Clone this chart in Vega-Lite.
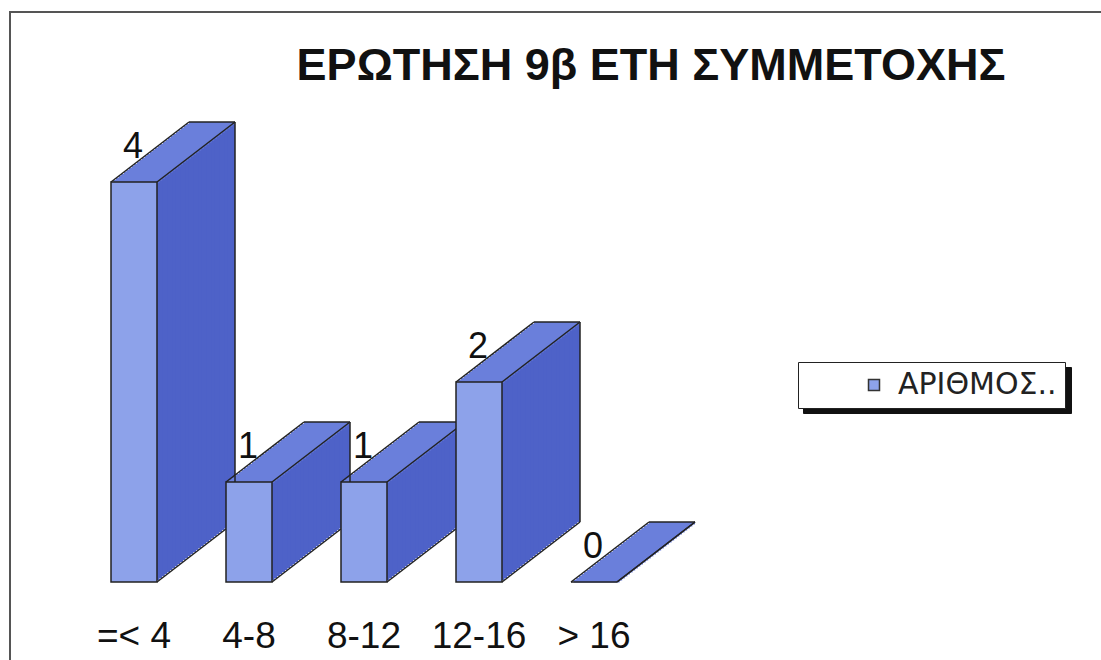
{
  "$schema": "https://vega.github.io/schema/vega-lite/v6.json",
  "autosize": "none",
  "width": 1100,
  "height": 660,
  "padding": {"left": 10, "top": 12, "right": 0, "bottom": 0},
  "background": "white",
  "config": {"view": {"stroke": "#555", "strokeWidth": 2}},
  "title": {"text": "ΕΡΩΤΗΣΗ 9β ΕΤΗ ΣΥΜΜΕΤΟΧΗΣ", "font": "Liberation Sans", "fontSize": 45, "fontWeight": "bold", "color": "#111", "anchor": "middle", "frame": "group", "dx": 91, "dy": 113, "baseline": "alphabetic", "offset": 0},
  "data": {"values": [
    {"cat": "=< 4", "v": 4},
    {"cat": "4-8", "v": 1},
    {"cat": "8-12", "v": 1},
    {"cat": "12-16", "v": 2},
    {"cat": "> 16", "v": 0}
  ]},
  "encoding": {
    "x": {"field": "cat", "type": "nominal", "sort": null, "axis": null, "scale": {"paddingInner": 0.6, "paddingOuter": 0.3, "range": [66.5, 641.5]}},
    "y": {"field": "v", "type": "quantitative", "axis": null, "scale": {"domain": [-0.9, 5.7], "nice": false, "zero": false}}
  },
  "layer": [
    {"mark": {"type": "bar", "color": "#4E62C8", "xOffset": 78, "yOffset": -60, "y2Offset": -60}, "encoding": {"y2": {"datum": 0}}},
    {"mark": {"type": "bar", "color": "#4E62C8", "xOffset": 75.4, "yOffset": -58, "y2Offset": -58}, "encoding": {"y2": {"datum": 0}}},
    {"mark": {"type": "bar", "color": "#4E62C8", "xOffset": 72.8, "yOffset": -56, "y2Offset": -56}, "encoding": {"y2": {"datum": 0}}},
    {"mark": {"type": "bar", "color": "#4E62C8", "xOffset": 70.2, "yOffset": -54, "y2Offset": -54}, "encoding": {"y2": {"datum": 0}}},
    {"mark": {"type": "bar", "color": "#4E62C8", "xOffset": 67.6, "yOffset": -52, "y2Offset": -52}, "encoding": {"y2": {"datum": 0}}},
    {"mark": {"type": "bar", "color": "#4E62C8", "xOffset": 65, "yOffset": -50, "y2Offset": -50}, "encoding": {"y2": {"datum": 0}}},
    {"mark": {"type": "bar", "color": "#4E62C8", "xOffset": 62.4, "yOffset": -48, "y2Offset": -48}, "encoding": {"y2": {"datum": 0}}},
    {"mark": {"type": "bar", "color": "#4E62C8", "xOffset": 59.8, "yOffset": -46, "y2Offset": -46}, "encoding": {"y2": {"datum": 0}}},
    {"mark": {"type": "bar", "color": "#4E62C8", "xOffset": 57.2, "yOffset": -44, "y2Offset": -44}, "encoding": {"y2": {"datum": 0}}},
    {"mark": {"type": "bar", "color": "#4E62C8", "xOffset": 54.6, "yOffset": -42, "y2Offset": -42}, "encoding": {"y2": {"datum": 0}}},
    {"mark": {"type": "bar", "color": "#4E62C8", "xOffset": 52, "yOffset": -40, "y2Offset": -40}, "encoding": {"y2": {"datum": 0}}},
    {"mark": {"type": "bar", "color": "#4E62C8", "xOffset": 49.4, "yOffset": -38, "y2Offset": -38}, "encoding": {"y2": {"datum": 0}}},
    {"mark": {"type": "bar", "color": "#4E62C8", "xOffset": 46.8, "yOffset": -36, "y2Offset": -36}, "encoding": {"y2": {"datum": 0}}},
    {"mark": {"type": "bar", "color": "#4E62C8", "xOffset": 44.2, "yOffset": -34, "y2Offset": -34}, "encoding": {"y2": {"datum": 0}}},
    {"mark": {"type": "bar", "color": "#4E62C8", "xOffset": 41.6, "yOffset": -32, "y2Offset": -32}, "encoding": {"y2": {"datum": 0}}},
    {"mark": {"type": "bar", "color": "#4E62C8", "xOffset": 39, "yOffset": -30, "y2Offset": -30}, "encoding": {"y2": {"datum": 0}}},
    {"mark": {"type": "bar", "color": "#4E62C8", "xOffset": 36.4, "yOffset": -28, "y2Offset": -28}, "encoding": {"y2": {"datum": 0}}},
    {"mark": {"type": "bar", "color": "#4E62C8", "xOffset": 33.8, "yOffset": -26, "y2Offset": -26}, "encoding": {"y2": {"datum": 0}}},
    {"mark": {"type": "bar", "color": "#4E62C8", "xOffset": 31.2, "yOffset": -24, "y2Offset": -24}, "encoding": {"y2": {"datum": 0}}},
    {"mark": {"type": "bar", "color": "#4E62C8", "xOffset": 28.6, "yOffset": -22, "y2Offset": -22}, "encoding": {"y2": {"datum": 0}}},
    {"mark": {"type": "bar", "color": "#4E62C8", "xOffset": 26, "yOffset": -20, "y2Offset": -20}, "encoding": {"y2": {"datum": 0}}},
    {"mark": {"type": "bar", "color": "#4E62C8", "xOffset": 23.4, "yOffset": -18, "y2Offset": -18}, "encoding": {"y2": {"datum": 0}}},
    {"mark": {"type": "bar", "color": "#4E62C8", "xOffset": 20.8, "yOffset": -16, "y2Offset": -16}, "encoding": {"y2": {"datum": 0}}},
    {"mark": {"type": "bar", "color": "#4E62C8", "xOffset": 18.2, "yOffset": -14, "y2Offset": -14}, "encoding": {"y2": {"datum": 0}}},
    {"mark": {"type": "bar", "color": "#4E62C8", "xOffset": 15.6, "yOffset": -12, "y2Offset": -12}, "encoding": {"y2": {"datum": 0}}},
    {"mark": {"type": "bar", "color": "#4E62C8", "xOffset": 13, "yOffset": -10, "y2Offset": -10}, "encoding": {"y2": {"datum": 0}}},
    {"mark": {"type": "bar", "color": "#4E62C8", "xOffset": 10.4, "yOffset": -8, "y2Offset": -8}, "encoding": {"y2": {"datum": 0}}},
    {"mark": {"type": "bar", "color": "#4E62C8", "xOffset": 7.8, "yOffset": -6, "y2Offset": -6}, "encoding": {"y2": {"datum": 0}}},
    {"mark": {"type": "bar", "color": "#4E62C8", "xOffset": 5.2, "yOffset": -4, "y2Offset": -4}, "encoding": {"y2": {"datum": 0}}},
    {"mark": {"type": "bar", "color": "#4E62C8", "xOffset": 2.6, "yOffset": -2, "y2Offset": -2}, "encoding": {"y2": {"datum": 0}}},
    {"mark": {"type": "bar", "color": "#6A7FDB", "xOffset": 78, "yOffset": -60, "y2Offset": -57.5}, "encoding": {"y2": {"field": "v"}}},
    {"mark": {"type": "bar", "color": "#6A7FDB", "xOffset": 75.4, "yOffset": -58, "y2Offset": -55.5}, "encoding": {"y2": {"field": "v"}}},
    {"mark": {"type": "bar", "color": "#6A7FDB", "xOffset": 72.8, "yOffset": -56, "y2Offset": -53.5}, "encoding": {"y2": {"field": "v"}}},
    {"mark": {"type": "bar", "color": "#6A7FDB", "xOffset": 70.2, "yOffset": -54, "y2Offset": -51.5}, "encoding": {"y2": {"field": "v"}}},
    {"mark": {"type": "bar", "color": "#6A7FDB", "xOffset": 67.6, "yOffset": -52, "y2Offset": -49.5}, "encoding": {"y2": {"field": "v"}}},
    {"mark": {"type": "bar", "color": "#6A7FDB", "xOffset": 65, "yOffset": -50, "y2Offset": -47.5}, "encoding": {"y2": {"field": "v"}}},
    {"mark": {"type": "bar", "color": "#6A7FDB", "xOffset": 62.4, "yOffset": -48, "y2Offset": -45.5}, "encoding": {"y2": {"field": "v"}}},
    {"mark": {"type": "bar", "color": "#6A7FDB", "xOffset": 59.8, "yOffset": -46, "y2Offset": -43.5}, "encoding": {"y2": {"field": "v"}}},
    {"mark": {"type": "bar", "color": "#6A7FDB", "xOffset": 57.2, "yOffset": -44, "y2Offset": -41.5}, "encoding": {"y2": {"field": "v"}}},
    {"mark": {"type": "bar", "color": "#6A7FDB", "xOffset": 54.6, "yOffset": -42, "y2Offset": -39.5}, "encoding": {"y2": {"field": "v"}}},
    {"mark": {"type": "bar", "color": "#6A7FDB", "xOffset": 52, "yOffset": -40, "y2Offset": -37.5}, "encoding": {"y2": {"field": "v"}}},
    {"mark": {"type": "bar", "color": "#6A7FDB", "xOffset": 49.4, "yOffset": -38, "y2Offset": -35.5}, "encoding": {"y2": {"field": "v"}}},
    {"mark": {"type": "bar", "color": "#6A7FDB", "xOffset": 46.8, "yOffset": -36, "y2Offset": -33.5}, "encoding": {"y2": {"field": "v"}}},
    {"mark": {"type": "bar", "color": "#6A7FDB", "xOffset": 44.2, "yOffset": -34, "y2Offset": -31.5}, "encoding": {"y2": {"field": "v"}}},
    {"mark": {"type": "bar", "color": "#6A7FDB", "xOffset": 41.6, "yOffset": -32, "y2Offset": -29.5}, "encoding": {"y2": {"field": "v"}}},
    {"mark": {"type": "bar", "color": "#6A7FDB", "xOffset": 39, "yOffset": -30, "y2Offset": -27.5}, "encoding": {"y2": {"field": "v"}}},
    {"mark": {"type": "bar", "color": "#6A7FDB", "xOffset": 36.4, "yOffset": -28, "y2Offset": -25.5}, "encoding": {"y2": {"field": "v"}}},
    {"mark": {"type": "bar", "color": "#6A7FDB", "xOffset": 33.8, "yOffset": -26, "y2Offset": -23.5}, "encoding": {"y2": {"field": "v"}}},
    {"mark": {"type": "bar", "color": "#6A7FDB", "xOffset": 31.2, "yOffset": -24, "y2Offset": -21.5}, "encoding": {"y2": {"field": "v"}}},
    {"mark": {"type": "bar", "color": "#6A7FDB", "xOffset": 28.6, "yOffset": -22, "y2Offset": -19.5}, "encoding": {"y2": {"field": "v"}}},
    {"mark": {"type": "bar", "color": "#6A7FDB", "xOffset": 26, "yOffset": -20, "y2Offset": -17.5}, "encoding": {"y2": {"field": "v"}}},
    {"mark": {"type": "bar", "color": "#6A7FDB", "xOffset": 23.4, "yOffset": -18, "y2Offset": -15.5}, "encoding": {"y2": {"field": "v"}}},
    {"mark": {"type": "bar", "color": "#6A7FDB", "xOffset": 20.8, "yOffset": -16, "y2Offset": -13.5}, "encoding": {"y2": {"field": "v"}}},
    {"mark": {"type": "bar", "color": "#6A7FDB", "xOffset": 18.2, "yOffset": -14, "y2Offset": -11.5}, "encoding": {"y2": {"field": "v"}}},
    {"mark": {"type": "bar", "color": "#6A7FDB", "xOffset": 15.6, "yOffset": -12, "y2Offset": -9.5}, "encoding": {"y2": {"field": "v"}}},
    {"mark": {"type": "bar", "color": "#6A7FDB", "xOffset": 13, "yOffset": -10, "y2Offset": -7.5}, "encoding": {"y2": {"field": "v"}}},
    {"mark": {"type": "bar", "color": "#6A7FDB", "xOffset": 10.4, "yOffset": -8, "y2Offset": -5.5}, "encoding": {"y2": {"field": "v"}}},
    {"mark": {"type": "bar", "color": "#6A7FDB", "xOffset": 7.8, "yOffset": -6, "y2Offset": -3.5}, "encoding": {"y2": {"field": "v"}}},
    {"mark": {"type": "bar", "color": "#6A7FDB", "xOffset": 5.2, "yOffset": -4, "y2Offset": -1.5}, "encoding": {"y2": {"field": "v"}}},
    {"mark": {"type": "bar", "color": "#6A7FDB", "xOffset": 2.6, "yOffset": -2, "y2Offset": 0.5}, "encoding": {"y2": {"field": "v"}}},
    {"mark": {"type": "rule", "stroke": "#222", "strokeWidth": 1.5, "xOffset": -23, "x2Offset": 55, "yOffset": 0, "y2Offset": -60}, "encoding": {"x2": {"field": "cat"}, "y2": {"field": "v"}}},
    {"mark": {"type": "rule", "stroke": "#222", "strokeWidth": 1.5, "xOffset": 23, "x2Offset": 101, "yOffset": 0, "y2Offset": -60}, "encoding": {"x2": {"field": "cat"}, "y2": {"field": "v"}}},
    {"mark": {"type": "rule", "stroke": "#222", "strokeWidth": 1.5, "xOffset": 55, "x2Offset": 101, "yOffset": -60, "y2Offset": -60}, "encoding": {"x2": {"field": "cat"}, "y2": {"field": "v"}}},
    {"mark": {"type": "rule", "stroke": "#222", "strokeWidth": 1.5, "xOffset": 101, "x2Offset": 101, "yOffset": -60, "y2Offset": -60}, "encoding": {"x2": {"field": "cat"}, "y2": {"datum": 0}}},
    {"mark": {"type": "rule", "stroke": "#222", "strokeWidth": 1.5, "xOffset": 23, "x2Offset": 101, "yOffset": 0, "y2Offset": -60}, "encoding": {"y": {"datum": 0}, "x2": {"field": "cat"}, "y2": {"datum": 0}}},
    {"mark": {"type": "bar", "stroke": "#222", "strokeWidth": 1.5},
     "encoding": {"y2": {"datum": 0},
       "fill": {"datum": "ΑΡΙΘΜΟΣ..", "scale": {"range": ["#8DA2EA"]},
         "legend": {"orient": "none", "legendX": 788, "legendY": 350, "zindex": 2, "title": null, "strokeColor": "#222", "fillColor": "white", "padding": 8, "symbolType": "square", "symbolSize": 121, "symbolStrokeColor": "#333", "symbolStrokeWidth": 1.5, "symbolOffset": 53, "labelFontSize": 30, "labelFont": "DejaVu Sans", "labelColor": "#222", "labelOffset": 9}},
       "opacity": {"datum": "shadow", "scale": {"range": [1]},
         "legend": {"orient": "none", "legendX": 793, "legendY": 355, "zindex": 1, "title": null, "labelExpr": "''", "labelFontSize": 1, "labelOffset": 0, "strokeColor": "#111", "fillColor": "#111", "padding": 8, "symbolType": "square", "symbolSize": 900, "symbolFillColor": "#111", "symbolStrokeColor": "#111", "symbolStrokeWidth": 0, "symbolOffset": 222}}}},
    {"mark": {"type": "text", "font": "Liberation Sans", "fontSize": 36, "color": "#111", "baseline": "middle", "dy": -35, "dx": -1}, "encoding": {"text": {"field": "v"}}},
    {"mark": {"type": "text", "font": "Liberation Sans", "fontSize": 37, "color": "#111", "baseline": "middle"}, "encoding": {"y": {"datum": -0.55}, "text": {"field": "cat"}}}
  ]
}
